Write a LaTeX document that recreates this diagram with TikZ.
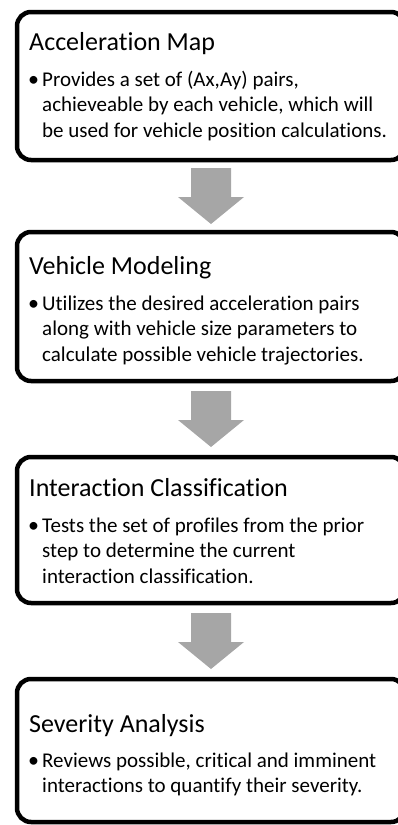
\documentclass[tikz,border=0pt]{standalone}
\usepackage{fontspec}
\setmainfont{Carlito}[Ligatures={NoCommon,NoContextual}]
\definecolor{arrowgray}{HTML}{A6A6A6}
\tikzset{
  stepbox/.style={draw=black, line width=4.5pt, rounded corners=14pt, fill=white,
    minimum width=388pt, inner sep=0pt, outer sep=0pt},
  title/.style={anchor=base west, inner sep=0pt, font=\fontsize{26}{31}\selectfont},
  body/.style={anchor=base west, inner sep=0pt, font=\fontsize{21}{25.5}\selectfont},
  bul/.style={anchor=base, inner sep=0pt, font=\fontsize{22}{25.5}\selectfont},
  blockarr/.style={fill=arrowgray, draw=none}
}
\begin{document}
\begin{tikzpicture}[x=1pt,y=-1pt]
\useasboundingbox (0,0) rectangle (397,825);
% boxes
\node[stepbox, minimum height=148pt] (b1) at (211,86) {};
\node[stepbox, minimum height=149pt] (b2) at (211,306.5) {};
\node[stepbox, minimum height=146pt] (b3) at (211,530) {};
\node[stepbox, minimum height=143pt] (b4) at (211,750.5) {};
% arrows between boxes
\foreach \t in {168,391,613}
  \fill[blockarr] (191,\t) -- (231,\t) -- (231,\t+29) -- (244,\t+29) -- (211,\t+56)
     -- (178,\t+29) -- (191,\t+29) -- cycle;
% box 1
\node[title] (t1) at (29,50) {Acceleration Map};
\node[bul] (u1) at (33.5,86) {•};
\node[body] (l11) at (42,86) {Provides a set of (Ax,Ay) pairs,};
\node[body] (l12) at (42,111.5) {achieveable by each vehicle, which will};
\node[body] (l13) at (42,137) {be used for vehicle position calculations.};
% box 2
\node[title] (t2) at (29,274) {Vehicle Modeling};
\node[bul] (u2) at (33.5,310) {•};
\node[body] (l21) at (42,310) {Utilizes the desired acceleration pairs};
\node[body] (l22) at (42,335.5) {along with vehicle size parameters to};
\node[body] (l23) at (42,361) {calculate possible vehicle trajectories.};
% box 3
\node[title] (t3) at (29,496) {Interaction Classification};
\node[bul] (u3) at (33.5,532) {•};
\node[body] (l31) at (42,532) {Tests the set of profiles from the prior};
\node[body] (l32) at (42,557.5) {step to determine the current};
\node[body] (l33) at (42,583) {interaction classification.};
% box 4
\node[title] (t4) at (29,732) {Severity Analysis};
\node[bul] (u4) at (33.5,767) {•};
\node[body] (l41) at (42,767) {Reviews possible, critical and imminent};
\node[body] (l42) at (42,792.5) {interactions to quantify their severity.};
\end{tikzpicture}
\end{document}
